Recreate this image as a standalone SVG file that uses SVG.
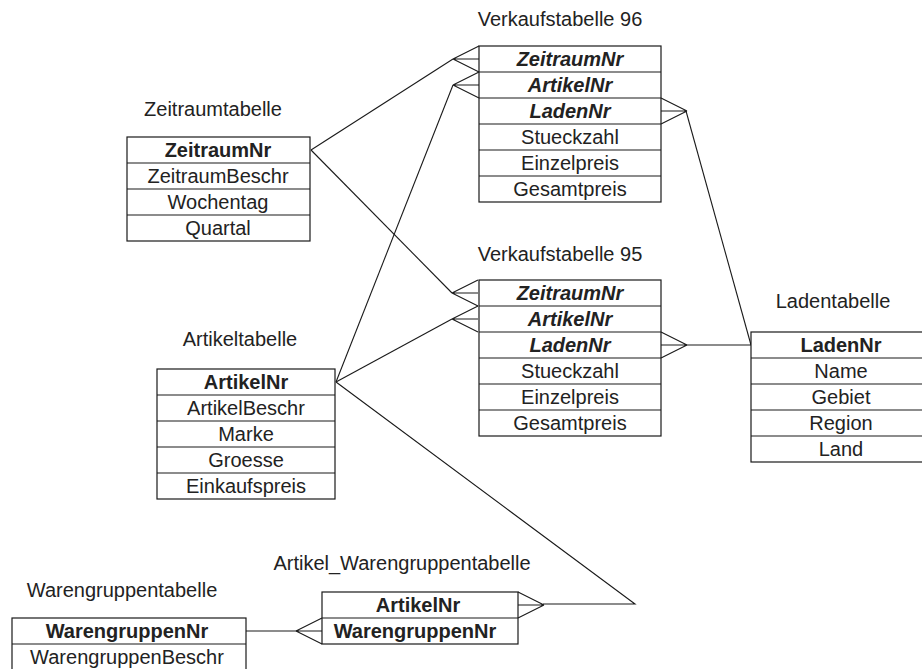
<svg xmlns="http://www.w3.org/2000/svg" width="922" height="669" viewBox="0 0 922 669">
  <style>
    .box { fill: #fff; stroke: #1a1a1a; stroke-width: 1.2; }
    .sep { stroke: #1a1a1a; stroke-width: 1.2; }
    .ln { fill: none; stroke: #1a1a1a; stroke-width: 1.1; stroke-linejoin: miter; }
    text { font-family: "Liberation Sans", Arial, sans-serif; font-size: 20px; fill: #222; text-anchor: middle; }
    .pk { font-weight: bold; }
    .fk { font-weight: bold; font-style: italic; }
  </style>
  <defs>
    <!-- crow's foot opening to the right (entity is to the right of the tip) -->
    <path id="footR" d="M0,0 L26,-13 M0,0 L26,0 M0,0 L26,13" />
    <!-- crow's foot opening to the left -->
    <path id="footL" d="M0,0 L-26,-13 M0,0 L-26,0 M0,0 L-26,13" />
  </defs>

  <!-- connectors -->
  <g id="connectors" class="ln">
    <!-- Zeitraumtabelle -->
    <polyline points="311,150 453,59" />
    <polyline points="311,150 452,293" />
    <!-- Artikeltabelle -->
    <polyline points="336,382 453,85" />
    <polyline points="336,382 452,319" />
    <polyline points="336,382 635,604 543,604" />
    <!-- Ladentabelle -->
    <polyline points="686,111 751,345" />
    <polyline points="686,345 751,345" />
    <!-- Warengruppentabelle -->
    <polyline points="246,631 297,631" />
    <!-- crow's feet -->
    <use href="#footR" x="453" y="59" />
    <use href="#footR" x="453" y="85" />
    <use href="#footR" x="452" y="293" />
    <use href="#footR" x="452" y="319" />
    <use href="#footL" x="687" y="111" />
    <use href="#footL" x="687" y="345" />
    <use href="#footL" x="544" y="605" />
    <use href="#footR" x="296" y="631" />
  </g>

  <!-- Verkaufstabelle 96 -->
  <g id="verkauf96">
    <text x="560" y="26">Verkaufstabelle 96</text>
    <rect class="box" x="479" y="46" width="182" height="156" />
    <line class="sep" x1="479" y1="72" x2="661" y2="72" />
    <line class="sep" x1="479" y1="98" x2="661" y2="98" />
    <line class="sep" x1="479" y1="124" x2="661" y2="124" />
    <line class="sep" x1="479" y1="150" x2="661" y2="150" />
    <line class="sep" x1="479" y1="176" x2="661" y2="176" />
    <text class="fk" x="570" y="66">ZeitraumNr</text>
    <text class="fk" x="570" y="92">ArtikelNr</text>
    <text class="fk" x="570" y="118">LadenNr</text>
    <text x="570" y="144">Stueckzahl</text>
    <text x="570" y="170">Einzelpreis</text>
    <text x="570" y="196">Gesamtpreis</text>
  </g>

  <!-- Verkaufstabelle 95 -->
  <g id="verkauf95">
    <text x="560" y="261">Verkaufstabelle 95</text>
    <rect class="box" x="479" y="280" width="182" height="156" />
    <line class="sep" x1="479" y1="306" x2="661" y2="306" />
    <line class="sep" x1="479" y1="332" x2="661" y2="332" />
    <line class="sep" x1="479" y1="358" x2="661" y2="358" />
    <line class="sep" x1="479" y1="384" x2="661" y2="384" />
    <line class="sep" x1="479" y1="410" x2="661" y2="410" />
    <text class="fk" x="570" y="300">ZeitraumNr</text>
    <text class="fk" x="570" y="326">ArtikelNr</text>
    <text class="fk" x="570" y="352">LadenNr</text>
    <text x="570" y="378">Stueckzahl</text>
    <text x="570" y="404">Einzelpreis</text>
    <text x="570" y="430">Gesamtpreis</text>
  </g>

  <!-- Zeitraumtabelle -->
  <g id="zeitraum">
    <text x="213" y="116">Zeitraumtabelle</text>
    <rect class="box" x="127" y="137" width="183" height="104" />
    <line class="sep" x1="127" y1="163" x2="310" y2="163" />
    <line class="sep" x1="127" y1="189" x2="310" y2="189" />
    <line class="sep" x1="127" y1="215" x2="310" y2="215" />
    <text class="pk" x="218" y="157">ZeitraumNr</text>
    <text x="218" y="183">ZeitraumBeschr</text>
    <text x="218" y="209">Wochentag</text>
    <text x="218" y="235">Quartal</text>
  </g>

  <!-- Artikeltabelle -->
  <g id="artikel">
    <text x="240" y="346">Artikeltabelle</text>
    <rect class="box" x="157" y="369" width="178" height="130" />
    <line class="sep" x1="157" y1="395" x2="335" y2="395" />
    <line class="sep" x1="157" y1="421" x2="335" y2="421" />
    <line class="sep" x1="157" y1="447" x2="335" y2="447" />
    <line class="sep" x1="157" y1="473" x2="335" y2="473" />
    <text class="pk" x="246" y="389">ArtikelNr</text>
    <text x="246" y="415">ArtikelBeschr</text>
    <text x="246" y="441">Marke</text>
    <text x="246" y="467">Groesse</text>
    <text x="246" y="493">Einkaufspreis</text>
  </g>

  <!-- Ladentabelle (runs past the right edge) -->
  <g id="laden">
    <text x="833" y="308">Ladentabelle</text>
    <rect class="box" x="751" y="332" width="180" height="130" />
    <line class="sep" x1="751" y1="358" x2="931" y2="358" />
    <line class="sep" x1="751" y1="384" x2="931" y2="384" />
    <line class="sep" x1="751" y1="410" x2="931" y2="410" />
    <line class="sep" x1="751" y1="436" x2="931" y2="436" />
    <text class="pk" x="841" y="352">LadenNr</text>
    <text x="841" y="378">Name</text>
    <text x="841" y="404">Gebiet</text>
    <text x="841" y="430">Region</text>
    <text x="841" y="456">Land</text>
  </g>

  <!-- Artikel_Warengruppentabelle -->
  <g id="artikel-warengruppe">
    <text x="402" y="570">Artikel_Warengruppentabelle</text>
    <rect class="box" x="322" y="592" width="196" height="52" />
    <line class="sep" x1="322" y1="618" x2="518" y2="618" />
    <text class="pk" x="418" y="612">ArtikelNr</text>
    <text class="pk" x="415" y="638">WarengruppenNr</text>
  </g>

  <!-- Warengruppentabelle (runs past the bottom edge) -->
  <g id="warengruppe">
    <text x="122" y="597">Warengruppentabelle</text>
    <rect class="box" x="12" y="618" width="234" height="52" />
    <line class="sep" x1="12" y1="644" x2="246" y2="644" />
    <text class="pk" x="127" y="638">WarengruppenNr</text>
    <text x="127" y="664">WarengruppenBeschr</text>
  </g>
</svg>
